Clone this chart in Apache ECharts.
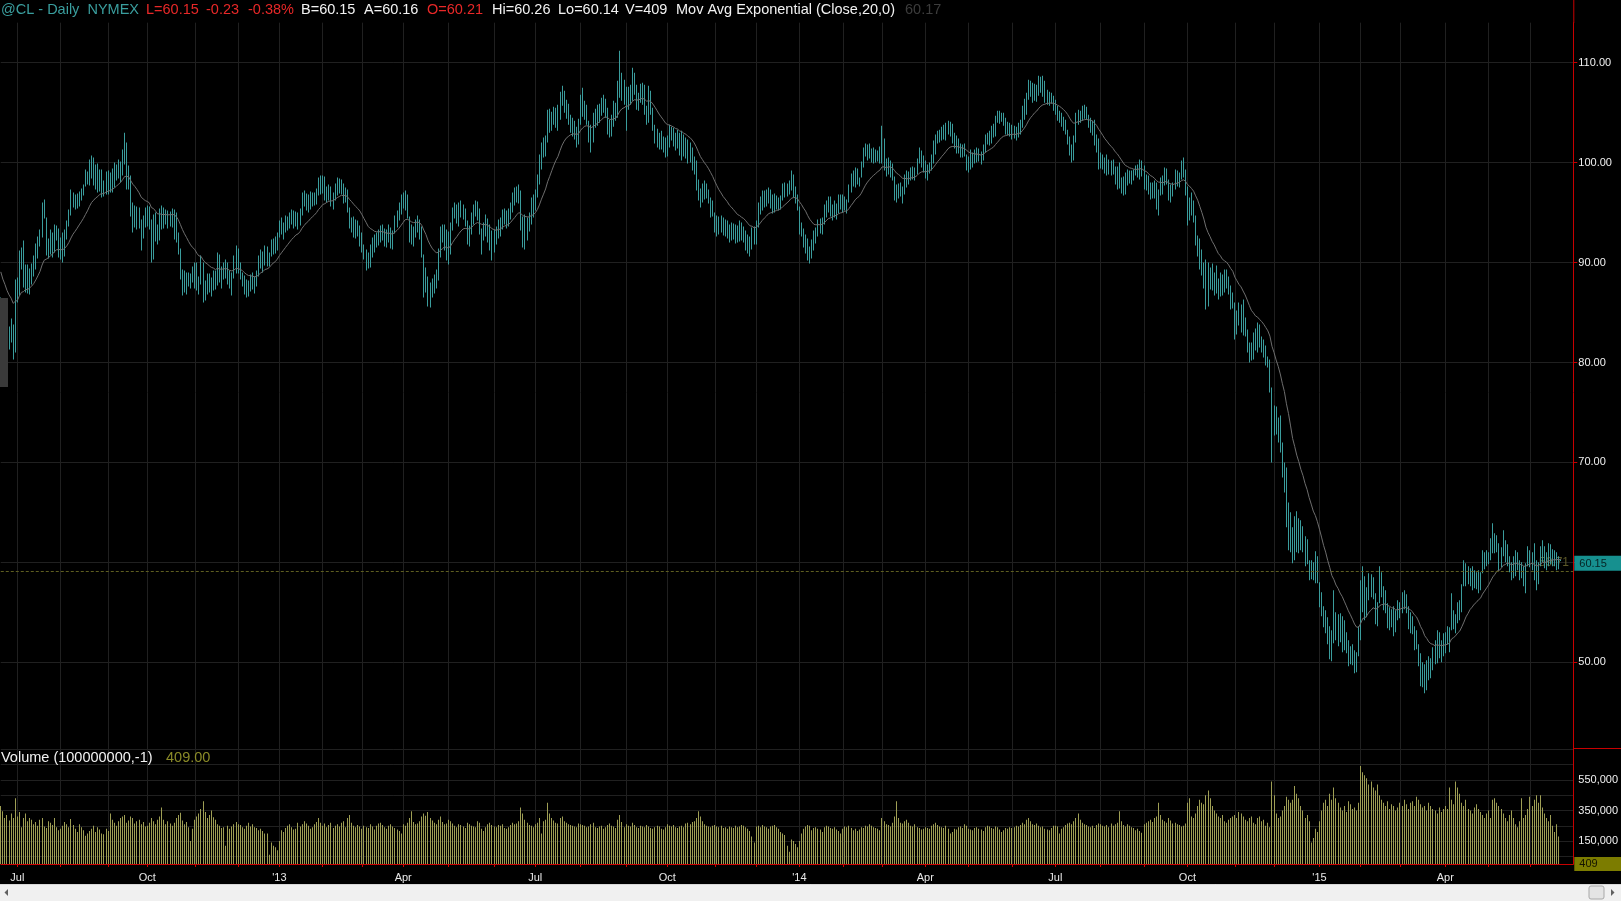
<!DOCTYPE html>
<html><head><meta charset="utf-8">
<script src="https://cdn.jsdelivr.net/npm/echarts@6/dist/echarts.min.js"></script>
<style>html,body{margin:0;padding:0;background:#000;overflow:hidden}#c{width:1621px;height:901px}</style>
</head><body><div id="c"></div><script>
// ---- daily bars per month: [low, high, close] ----
const p1206=[[83.0,86.5,84.0],[81.0,84.5,81.5],[81.2,83.5,82.8],[80.8,83.2,81.5],[81.3,83.6,82.5],[82.0,84.4,83.3],[80.3,83.8,81.0],[81.0,88.3,88.0]];
const p1207=[[86.0,88.5,87.0],[86.7,91.2,90.9],[89.3,91.5,90.5],[87.5,92.2,87.8],[87.0,89.8,89.3],[86.9,89.8,87.2],[86.8,89.4,89.1],[87.8,89.9,89.4],[88.6,90.7,90.4],[89.3,91.9,91.7],[90.4,92.6,92.5],[91.6,93.3,93.2],[92.5,96.0,95.9],[94.4,96.3,94.7],[90.7,94.5,91.4],[90.4,92.4,91.8],[90.8,93.3,92.3],[90.5,93.0,92.7],[91.0,93.8,93.4],[92.2,93.7,93.1],[90.5,93.4,91.4]];
const p1208=[[90.3,92.5,91.5],[90.0,93.0,90.8],[90.6,93.3,93.1],[92.3,94.2,93.9],[93.6,95.3,95.2],[94.7,97.3,96.7],[95.5,97.0,96.5],[95.3,96.8,95.8],[95.4,96.9,96.4],[95.6,97.1,96.9],[96.2,97.4,97.0],[96.7,97.8,97.6],[97.6,99.3,98.5],[97.8,99.1,98.7],[97.7,100.3,100.0],[98.4,100.7,99.6],[97.7,100.5,98.4],[97.3,99.8,98.6],[97.0,99.9,98.0],[97.1,99.3,98.9],[96.5,99.3,97.5],[96.6,98.2,97.0],[96.8,99.1,98.6]];
const p1209=[[96.8,99.2,97.8],[97.0,99.0,97.9],[97.0,99.4,98.2],[97.5,100.0,99.0],[98.2,99.8,99.2],[98.4,100.3,99.8],[98.0,100.1,99.6],[98.7,101.3,101.0],[99.8,103.0,101.6],[97.3,102.0,98.9],[97.3,99.7,97.9],[94.6,98.7,94.6],[93.0,96.0,94.5],[93.5,95.7,95.4],[93.3,95.6,94.5],[93.4,95.5,93.9],[91.2,94.3,92.6],[92.4,94.7,94.4],[93.5,95.5,94.7]];
const p1210=[[93.6,95.7,95.2],[93.3,95.6,94.7],[90.0,94.3,91.0],[90.3,94.8,94.5],[92.1,95.0,92.7],[91.8,93.8,92.1],[92.2,95.4,95.2],[93.3,95.7,94.0],[93.4,95.5,94.9],[93.8,95.3,94.6],[93.4,95.2,94.6],[93.6,95.1,94.9],[93.5,95.4,94.9],[92.3,95.3,94.8],[92.0,95.0,92.8],[90.8,93.0,91.4],[88.3,91.4,89.2],[86.7,89.3,88.5],[87.0,89.2,88.8],[86.8,89.0,89.0],[87.6,89.0,88.3],[87.4,88.9,88.4],[88.0,89.6,89.0]];
const p1211=[[87.4,90.0,89.5],[87.2,90.0,87.4],[86.8,88.6,88.1],[87.8,90.7,90.3],[86.0,90.0,86.9],[86.2,88.2,87.5],[86.8,88.9,88.5],[87.0,88.9,88.0],[86.6,88.5,87.9],[87.2,89.2,88.8],[87.3,89.2,87.9],[87.7,91.0,90.6],[88.0,90.8,88.6],[87.4,89.6,89.2],[88.3,90.0,89.6],[88.4,90.3,89.9],[87.8,90.0,88.6],[87.4,89.2,88.0],[86.7,89.0,88.7],[88.4,90.7,90.2],[88.9,91.7,90.9]];
const p1212=[[88.9,91.4,89.2],[88.3,90.0,88.6],[87.6,89.0,88.2],[86.8,88.7,87.0],[86.5,88.3,87.2],[86.6,88.2,87.5],[87.1,88.8,88.6],[87.3,89.0,87.9],[86.9,88.6,88.2],[87.6,89.2,88.9],[88.6,90.7,90.4],[89.4,91.3,90.8],[89.0,91.1,90.2],[89.7,91.7,91.4],[89.6,91.6,89.8],[89.6,91.0,90.7],[90.6,92.3,92.0],[90.8,92.4,92.1],[90.9,92.6,91.4],[91.2,93.0,92.8]];
const p1301=[[92.5,94.2,94.0],[92.8,94.5,93.6],[92.3,94.0,93.8],[93.0,94.7,94.2],[93.2,94.6,94.3],[93.4,95.0,94.6],[93.8,95.3,94.8],[93.4,95.2,94.5],[93.6,95.1,95.0],[93.3,95.0,93.8],[93.7,95.4,95.2],[94.7,97.0,96.8],[95.6,97.2,96.2],[95.2,96.9,96.4],[95.0,96.8,95.7],[95.3,97.1,96.8],[95.6,97.0,96.4],[95.7,97.0,96.6],[95.8,97.4,97.2],[96.7,98.5,98.3],[96.8,98.7,97.6]];
const p1302=[[96.9,98.7,98.4],[96.2,98.6,96.7],[96.0,97.6,97.3],[96.2,97.8,97.2],[95.6,97.6,96.4],[95.3,97.0,96.5],[96.2,97.9,97.6],[96.7,98.5,98.1],[96.9,98.4,97.6],[96.8,98.3,97.9],[95.9,97.9,96.4],[96.0,97.5,97.1],[95.0,97.3,95.2],[93.4,95.5,93.7],[93.0,94.5,94.0],[92.5,94.6,93.4],[92.4,94.3,93.4],[92.6,94.2,93.5],[91.6,93.7,92.8]];
const p1303=[[91.0,93.0,91.3],[90.3,91.8,90.7],[89.2,91.3,90.5],[89.4,91.0,89.8],[89.5,91.8,91.4],[90.5,92.5,92.2],[91.0,92.8,91.6],[91.5,93.0,92.6],[91.7,93.3,92.9],[92.0,93.7,93.4],[92.2,93.8,93.0],[91.6,93.4,92.3],[91.5,93.3,92.0],[92.0,93.8,93.4],[91.4,93.5,92.0],[91.3,93.2,92.9],[92.9,94.7,94.5],[93.5,95.2,95.0],[94.2,96.0,95.6],[94.8,96.8,96.4]];
const p1304=[[95.4,97.0,96.8],[95.2,97.2,96.9],[94.4,96.8,94.6],[92.0,94.6,93.3],[91.8,93.8,92.6],[91.6,93.6,93.3],[92.5,94.3,94.1],[93.0,94.7,94.5],[92.3,94.3,93.3],[90.5,93.6,91.3],[86.5,90.8,88.7],[87.0,89.5,88.7],[85.6,88.6,86.7],[85.5,88.0,87.7],[86.5,88.4,88.0],[86.9,88.8,88.7],[87.4,89.3,89.2],[88.2,91.4,91.2],[90.5,93.6,93.3],[92.0,93.8,92.8],[91.2,93.8,93.4],[90.2,93.3,91.0]];
const p1305=[[89.8,93.1,90.8],[90.8,94.0,93.8],[93.2,95.5,95.3],[94.4,96.0,95.4],[93.9,95.8,95.0],[93.6,96.0,95.8],[94.5,96.2,95.6],[94.3,95.8,95.3],[93.6,95.4,94.0],[91.8,94.2,93.0],[91.6,93.7,93.3],[92.8,95.0,94.7],[93.8,95.8,95.6],[94.6,96.2,95.8],[94.2,96.1,95.0],[92.8,95.4,93.1],[90.8,93.4,93.0],[92.2,94.0,93.3],[92.6,94.8,94.3],[92.0,94.4,92.4],[91.2,93.8,92.8],[90.2,93.2,91.2]];
const p1306=[[91.0,93.3,92.6],[91.8,93.6,92.5],[92.4,94.3,93.9],[92.6,94.5,93.8],[93.3,95.3,95.1],[93.8,95.4,94.9],[93.4,95.2,94.4],[93.6,95.4,94.8],[94.3,96.0,95.7],[95.0,97.0,96.8],[95.7,97.5,96.7],[96.0,97.6,97.4],[95.9,97.8,97.1],[93.2,97.2,94.2],[91.5,94.6,92.5],[91.3,94.8,93.9],[92.2,94.5,94.2],[93.1,95.0,94.4],[93.8,96.5,96.0],[94.5,96.8,95.5]];
const p1307=[[95.2,97.3,96.9],[96.5,98.8,98.4],[97.8,100.8,100.2],[99.3,102.0,101.8],[100.5,102.5,101.6],[100.6,102.7,102.3],[102.0,105.3,105.0],[103.0,105.4,103.7],[103.2,105.1,104.6],[103.8,105.6,105.0],[103.5,105.5,104.8],[103.2,105.8,104.3],[104.3,107.1,106.8],[105.7,107.7,106.9],[105.0,107.2,105.8],[104.4,106.3,105.4],[103.8,105.9,104.2],[103.0,104.8,104.3],[102.6,104.5,103.5],[102.3,104.2,103.4],[101.5,103.6,101.9],[101.8,104.4,103.9]];
const p1308=[[103.8,106.8,106.5],[104.6,107.5,105.6],[104.3,106.2,105.3],[103.8,105.8,104.1],[102.0,104.2,103.0],[101.0,103.8,102.2],[102.0,105.0,104.8],[103.5,105.4,105.0],[103.7,105.8,105.6],[104.0,105.9,105.6],[104.7,106.5,106.1],[105.0,106.8,106.3],[104.5,106.4,105.8],[102.8,105.5,103.6],[102.5,104.3,102.8],[102.6,104.8,103.9],[103.6,106.2,105.3],[104.2,106.0,104.9],[104.5,108.2,107.9],[106.5,111.2,108.8],[106.2,109.0,107.6],[105.8,108.3,106.5]];
const p1309=[[103.2,107.6,107.0],[105.3,107.6,106.0],[105.8,107.8,107.2],[106.2,109.5,108.9],[106.8,109.0,108.0],[105.3,107.8,106.0],[105.2,107.0,106.3],[106.0,107.9,107.4],[105.8,108.0,107.0],[104.8,107.8,105.4],[103.8,105.7,104.3],[104.0,107.7,106.8],[104.8,107.2,105.2],[103.2,105.5,103.5],[101.9,103.8,102.6],[101.5,103.4,102.0],[101.3,103.0,101.5],[101.3,103.2,101.9],[101.0,102.6,101.6],[100.5,102.5,101.0]];
const p1310=[[100.6,102.7,102.2],[101.5,103.8,103.3],[102.2,103.6,102.8],[101.6,103.5,102.5],[101.2,103.0,102.0],[101.4,103.3,102.8],[100.7,103.0,101.3],[100.2,103.2,102.7],[100.6,102.8,101.2],[100.4,102.5,102.0],[99.9,102.3,100.6],[100.0,102.0,101.3],[99.2,101.5,100.0],[98.8,100.6,99.2],[97.2,100.2,97.8],[96.2,98.3,96.6],[95.5,97.4,96.0],[96.0,97.9,97.3],[96.3,98.2,96.9],[96.4,97.9,97.2],[95.9,97.3,96.2],[94.5,96.5,95.4],[94.6,96.2,94.9]];
const p1311=[[93.0,95.0,93.5],[92.6,94.7,93.6],[92.8,94.6,93.4],[93.0,94.7,94.0],[92.7,94.5,93.3],[92.6,94.3,93.9],[92.4,94.2,93.6],[92.0,93.8,92.5],[92.2,94.0,93.6],[92.3,93.9,93.0],[91.9,93.8,92.7],[92.0,93.7,92.4],[92.1,94.2,93.7],[92.2,94.0,92.9],[92.0,93.6,93.2],[91.2,93.2,92.0],[90.9,92.8,91.5],[90.6,92.6,91.4],[91.3,93.5,93.2],[91.8,93.6,92.0]];
const p1312=[[91.8,94.2,93.8],[93.5,96.0,95.6],[94.8,96.6,96.2],[95.2,97.2,96.8],[95.5,97.2,96.6],[95.6,97.3,96.5],[95.9,97.5,97.2],[95.4,97.3,95.8],[94.9,96.8,95.5],[95.0,96.9,96.3],[95.3,96.7,95.8],[95.2,96.5,96.1],[95.3,96.7,96.4],[96.2,97.9,97.6],[96.5,98.0,97.5],[96.6,97.9,97.7],[96.8,98.2,98.0],[97.2,99.2,98.8],[96.5,98.8,97.3],[95.9,97.6,96.5],[95.2,96.8,95.5]];
const p1401=[[92.8,95.6,93.0],[92.6,94.0,93.2],[91.5,93.4,92.0],[90.9,92.8,92.3],[90.2,92.4,90.5],[89.9,91.6,90.8],[90.4,92.3,91.6],[91.2,93.2,91.5],[91.9,93.5,93.3],[92.6,94.3,94.0],[92.9,94.4,93.6],[92.8,94.5,94.3],[93.8,95.8,95.5],[94.5,96.2,96.0],[95.0,96.6,96.4],[94.6,96.6,95.2],[94.2,95.8,95.5],[94.5,96.2,95.9],[94.3,95.9,94.9],[94.9,96.8,96.6],[95.3,96.8,95.7]];
const p1402=[[95.0,96.8,95.4],[95.2,96.6,96.3],[94.9,96.3,95.5],[96.0,97.8,97.5],[97.0,98.9,98.6],[97.6,99.2,98.5],[97.5,99.5,99.2],[97.8,99.4,98.4],[97.6,98.5,98.2],[98.5,100.1,99.8],[99.5,101.5,101.2],[100.6,101.9,101.5],[100.2,101.8,101.0],[100.4,101.9,100.7],[100.0,101.4,100.9],[99.9,101.5,100.5],[100.0,101.3,100.6],[100.1,101.2,100.9],[99.9,101.6,100.6]];
const p1403=[[99.9,103.7,102.6],[99.2,102.4,99.6],[98.6,100.4,98.9],[98.8,100.5,100.0],[98.5,100.2,99.8],[98.2,99.9,98.5],[96.2,98.6,97.0],[96.0,97.8,96.3],[96.4,97.9,97.5],[96.6,98.0,97.0],[95.9,97.6,96.2],[96.8,98.8,98.6],[97.5,99.2,97.9],[97.8,99.1,98.6],[98.2,99.5,99.1],[98.3,99.6,98.7],[98.2,99.5,99.2],[98.8,100.4,100.1],[99.9,101.5,101.0],[99.5,101.2,100.3],[99.0,100.7,99.6]];
const p1404=[[98.4,100.2,98.8],[98.2,99.8,99.6],[98.9,100.0,99.6],[99.2,100.8,100.5],[99.9,102.2,101.8],[100.8,102.8,102.5],[101.9,103.2,102.8],[102.0,103.3,102.6],[102.2,103.6,103.3],[102.3,103.8,103.0],[102.2,104.0,103.6],[102.8,104.2,103.9],[102.6,104.1,103.2],[101.9,103.9,102.2],[101.4,103.0,101.7],[100.9,102.7,101.3],[100.9,102.4,101.6],[100.5,101.9,100.8],[100.5,101.8,100.9],[100.6,101.9,101.0],[99.2,100.8,99.6]];
const p1405=[[99.0,100.6,99.4],[99.3,101.3,100.0],[99.5,101.0,100.5],[99.9,101.3,100.3],[100.0,101.5,100.8],[100.1,101.4,100.4],[99.8,101.1,100.2],[100.2,101.8,101.6],[101.0,102.8,102.5],[101.8,103.0,102.7],[101.7,103.2,102.4],[101.9,103.7,102.7],[102.5,103.9,102.8],[102.6,104.7,104.3],[104.0,105.2,104.2],[103.9,105.2,104.7],[104.1,105.0,104.6],[103.7,105.0,104.0],[102.8,104.5,103.2],[102.7,104.1,103.6],[102.6,104.0,102.9]];
const p1406=[[102.3,103.8,103.0],[102.4,103.7,103.1],[102.2,103.6,102.6],[102.5,104.0,103.8],[102.8,104.3,103.4],[103.5,105.7,105.3],[104.3,106.4,106.1],[104.8,107.0,106.8],[106.3,108.3,108.0],[106.6,108.2,107.4],[106.0,108.0,107.0],[106.2,107.9,107.5],[106.1,107.8,106.8],[106.7,108.7,108.1],[107.0,108.6,107.6],[106.6,108.7,107.1],[106.0,108.2,106.4],[105.8,107.3,106.8],[105.7,107.1,105.9],[105.9,107.0,106.4],[105.2,106.7,105.5]];
const p1407=[[104.8,106.3,105.4],[104.2,105.7,104.5],[104.0,105.2,104.6],[103.6,105.0,104.0],[103.2,104.6,103.6],[102.8,104.3,103.0],[101.8,103.3,102.2],[100.7,102.6,101.0],[100.0,101.8,100.9],[100.2,102.7,102.3],[102.0,105.0,104.7],[103.8,105.3,104.8],[104.0,105.2,104.5],[104.2,105.7,105.2],[104.4,105.8,104.9],[104.3,105.6,104.6],[103.5,104.8,103.9],[103.0,104.5,104.1],[102.7,104.2,103.1],[101.7,104.3,102.0],[101.0,102.8,101.6],[99.3,102.4,99.8]];
const p1408=[[99.4,101.0,100.3],[99.3,100.8,99.6],[98.9,100.5,99.2],[98.7,100.8,99.8],[98.8,100.3,99.1],[98.7,100.2,99.5],[98.8,100.3,99.3],[97.8,99.6,98.0],[97.3,99.6,99.0],[97.4,100.0,97.7],[96.9,98.5,97.3],[96.7,98.6,97.0],[96.8,99.0,97.3],[97.7,99.3,98.7],[97.9,99.2,98.2],[97.8,99.2,98.9],[98.2,99.3,98.6],[98.7,99.7,99.1],[98.5,99.8,99.4],[98.3,100.3,100.0],[98.6,100.2,99.2]];
const p1409=[[97.3,99.7,97.6],[97.2,98.8,98.3],[96.8,98.7,97.2],[96.3,98.0,96.6],[96.4,98.0,97.6],[96.4,98.2,96.8],[95.3,98.0,96.0],[94.7,97.3,96.6],[96.7,98.5,97.9],[96.8,98.7,97.3],[97.7,99.5,99.2],[97.8,99.4,98.3],[96.2,98.3,96.5],[96.0,97.8,97.2],[96.6,98.0,97.0],[97.3,99.3,98.8],[97.6,99.2,98.4],[97.5,99.0,98.6],[98.3,100.2,99.8],[98.5,100.5,99.3],[96.7,99.3,97.0]];
const p1410=[[93.7,97.6,94.6],[94.2,96.5,96.0],[94.7,97.0,95.2],[94.0,96.2,94.6],[91.7,94.7,92.2],[90.6,92.7,92.1],[89.3,92.4,89.8],[88.7,91.3,89.2],[87.4,90.0,88.0],[85.3,90.3,85.8],[85.6,90.0,88.0],[87.3,89.5,88.6],[87.2,89.9,87.7],[86.7,89.0,88.4],[86.9,89.7,87.1],[86.3,88.4,86.9],[86.6,89.0,88.5],[86.7,88.8,87.0],[87.0,89.3,88.8],[87.4,89.3,88.6],[86.8,88.6,87.2],[85.3,87.7,86.0],[85.4,87.0,86.5]];
const p1411=[[82.3,86.0,83.0],[82.8,85.2,84.8],[83.7,86.0,84.3],[83.0,85.8,85.2],[82.7,86.3,83.2],[82.6,84.5,83.0],[81.0,83.3,81.5],[80.0,82.0,80.6],[80.2,82.0,80.5],[80.3,83.0,82.5],[81.2,83.4,81.8],[81.0,84.0,83.4],[81.5,83.8,82.0],[81.0,82.6,82.2],[80.5,82.3,81.2],[79.7,81.7,80.4],[79.5,80.6,80.0],[77.0,80.3,77.6],[70.0,77.5,72.0]];
const p1412=[[72.7,75.7,75.0],[72.8,75.6,73.2],[72.0,74.5,73.6],[71.0,74.7,71.6],[68.5,72.0,69.0],[67.0,70.0,69.3],[63.5,69.5,64.2],[61.2,66.0,65.5],[61.0,65.0,62.0],[59.9,63.5,60.4],[60.2,64.6,64.0],[61.0,65.1,62.5],[60.9,64.4,63.8],[61.2,64.2,62.0],[61.0,63.6,63.0],[59.6,62.6,60.3],[59.8,62.3,61.5],[58.2,60.2,58.8],[58.3,60.2,59.6],[58.2,60.0,58.5],[57.9,61.1,60.5],[57.9,60.6,58.2]];
const p1501=[[55.5,58.0,56.2],[54.6,57.0,55.0],[53.5,55.6,53.8],[52.9,55.2,54.6],[51.8,54.5,52.3],[50.3,53.6,52.8],[50.1,53.2,51.0],[51.9,57.2,54.4],[52.2,55.0,52.6],[51.6,54.8,54.2],[52.0,54.9,52.5],[51.0,54.6,53.4],[51.2,54.2,51.6],[50.9,53.0,51.2],[49.6,52.2,50.4],[49.8,51.6,51.0],[49.7,51.8,50.0],[48.9,51.2,49.3],[49.0,51.0,50.6],[50.6,53.6,53.3]];
const p1502=[[52.2,58.2,57.8],[55.0,59.6,59.0],[54.2,58.6,54.8],[54.5,57.5,57.0],[56.2,58.9,58.3],[56.5,58.8,57.0],[56.3,58.5,57.8],[53.8,56.9,54.2],[53.6,56.0,55.6],[55.9,59.6,58.2],[56.5,59.0,57.0],[55.2,57.6,56.0],[54.9,57.2,56.6],[53.4,55.9,54.0],[53.2,55.5,54.8],[53.5,55.3,54.0],[52.6,55.6,55.2],[53.0,55.2,53.5],[54.2,56.2,55.5]];
const p1503=[[54.4,56.0,55.6],[54.9,57.0,56.5],[55.3,57.2,55.8],[54.9,56.8,56.2],[53.3,55.6,53.8],[52.9,55.0,54.5],[52.8,54.6,53.0],[51.2,53.6,51.8],[51.3,53.2,52.7],[49.6,51.8,50.0],[47.6,50.9,48.5],[47.5,50.0,49.6],[46.9,49.8,47.4],[47.2,50.2,49.8],[48.2,50.6,48.8],[48.4,50.4,50.1],[49.2,51.5,51.2],[49.8,52.2,50.3],[49.9,53.2,52.8],[50.4,53.0,51.0],[50.0,52.2,51.8],[50.6,52.9,51.5]];
const p1504=[[50.9,53.0,52.6],[51.8,53.6,52.0],[51.0,53.5,53.2],[53.2,56.9,56.2],[53.3,55.2,53.8],[52.9,54.8,54.4],[53.9,56.0,55.6],[54.2,56.2,55.0],[55.0,57.8,57.6],[57.6,60.2,58.4],[57.6,59.9,59.5],[57.8,59.6,58.2],[57.6,59.4,59.0],[57.2,59.6,57.8],[57.4,59.2,58.6],[57.3,59.0,57.6],[56.9,59.2,58.7],[57.2,59.0,57.9],[58.9,61.2,60.8],[59.3,61.0,60.0],[59.6,61.2,60.5]];
const p1505=[[59.8,61.0,60.6],[60.2,62.4,62.0],[60.9,63.9,62.2],[60.9,62.9,61.3],[61.0,62.7,62.2],[59.2,61.9,59.8],[59.5,61.5,61.1],[60.6,63.2,62.8],[60.0,62.2,60.5],[59.6,61.8,61.4],[59.0,60.6,59.5],[58.2,60.0,58.6],[58.4,60.6,60.2],[58.6,61.2,60.9],[59.2,61.0,59.6],[58.2,60.2,58.8],[58.4,60.0,59.8],[57.6,59.6,58.0],[56.9,59.9,59.6],[59.6,61.6,61.2]];
const p1506=[[59.5,61.2,60.3],[59.2,61.0,60.8],[58.2,61.9,59.0],[57.2,60.2,58.2],[57.8,60.0,59.6],[59.6,61.6,61.2],[60.0,62.2,61.5],[59.4,61.6,60.0],[59.2,61.0,60.8],[59.6,61.9,61.2],[59.8,61.8,60.3],[59.6,61.3,61.0],[59.6,61.2,60.2],[59.2,61.0,60.6],[59.3,60.6,60.38],[60.14,60.26,60.15]];

// ---- daily volume per month, thousands of contracts ----
const v1206=[380,345,300,320,285,330,300,430];
const v1207=[310,340,240,300,330,280,300,290,260,275,250,290,300,245,235,280,270,255,300,240,220];
const v1208=[230,250,275,260,240,295,255,230,210,260,240,220,185,200,215,230,250,210,240,225,200,195,230];
const v1209=[215,330,290,270,250,280,300,310,320,270,285,310,300,265,280,290,260,275,245];
const v1210=[250,270,300,280,260,290,310,370,290,260,280,265,250,270,300,320,335,285,260,275,240,150,230];
const v1211=[290,310,330,360,410,340,300,320,350,305,290,260,250,235,240,120,250,230,245,260,275];
const v1212=[260,255,240,230,250,270,245,260,240,235,220,230,215,200,200,60,140,120,110,90];
const v1301=[150,220,210,235,250,260,240,225,230,270,245,260,280,265,250,230,240,260,275,300,270];
const v1302=[250,265,240,255,270,235,250,260,245,270,280,240,300,320,270,250,240,255,245];
const v1303=[230,250,240,235,260,245,225,250,265,270,255,240,230,250,260,245,235,225,215,200];
const v1304=[260,250,270,300,345,275,260,265,280,310,330,315,340,300,285,270,260,290,310,275,260,265];
const v1305=[290,280,265,250,240,260,255,245,235,270,260,250,245,240,280,270,230,215,240,260,270,255];
const v1306=[245,240,255,250,260,235,230,240,255,270,260,265,280,370,330,290,270,255,250,240];
const v1307=[260,270,300,200,280,290,400,330,300,285,270,265,300,310,280,270,260,255,250,245,240,265];
const v1308=[260,255,250,240,245,260,270,240,235,245,250,230,240,255,265,250,245,235,290,320,275,240];
const v1309=[260,250,245,270,255,240,235,250,245,240,255,245,235,230,240,250,245,230,225,240];
const v1310=[260,250,245,255,240,235,245,250,240,265,270,260,275,280,300,345,310,280,260,250,245,240,250];
const v1311=[255,245,240,250,235,240,230,245,240,235,250,240,245,255,250,240,230,215,180,140];
const v1312=[245,250,240,255,245,240,230,245,250,255,240,230,210,200,190,120,80,160,150,130,110];
const v1401=[150,200,230,245,255,250,220,235,240,230,225,210,240,250,245,235,230,240,225,215,200];
const v1402=[230,245,240,250,235,220,230,215,225,240,235,250,245,260,250,240,235,230,220];
const v1403=[300,280,260,255,245,270,310,410,300,270,265,280,290,270,250,245,260,240,235,225,230];
const v1404=[240,235,230,250,260,270,255,245,240,235,250,230,200,210,230,225,240,245,235,260,250];
const v1405=[230,225,220,235,240,230,225,215,240,250,245,235,230,245,240,225,210,220,235,230,240];
const v1406=[235,240,250,245,255,270,260,290,300,280,260,255,265,250,240,245,230,225,220,235,250];
const v1407=[250,245,200,230,240,255,265,270,260,280,300,330,290,270,260,255,245,240,250,235,255,265];
const v1408=[260,250,245,255,240,265,250,260,270,345,280,255,245,260,250,240,235,220,230,215,205];
const v1409=[260,270,280,290,275,300,310,400,320,290,280,270,300,285,265,270,260,255,245,250,265];
const v1410=[400,430,310,300,330,380,420,400,390,450,480,430,380,350,330,310,300,320,280,270,290,300,310];
const v1411=[320,300,340,330,310,290,280,300,310,270,260,300,310,280,290,250,270,240,540];
const v1412=[450,330,300,310,350,380,440,420,400,420,510,460,430,380,350,300,320,280,140,170,230,210];
const v1501=[280,350,400,420,380,460,420,500,430,400,370,350,380,340,410,390,360,370,350,400];
const v1502=[640,600,580,560,520,540,500,480,520,450,420,400,380,410,360,390,380,350,370];
const v1503=[400,380,420,390,360,400,410,380,440,420,390,370,380,350,400,380,360,350,330,370,340,360];
const v1504=[380,360,500,420,390,540,500,460,400,380,420,360,350,330,370,390,360,340,320,300,330];
const v1505=[350,300,420,430,400,380,360,330,300,280,320,350,300,260,240,280,430,300,320,360];
const v1506=[440,380,420,450,400,450,370,330,300,280,320,250,210,260,180,0.409];

const monthKeys=['2012-06','2012-07','2012-08','2012-09','2012-10','2012-11','2012-12','2013-01','2013-02','2013-03','2013-04','2013-05','2013-06','2013-07','2013-08','2013-09','2013-10','2013-11','2013-12','2014-01','2014-02','2014-03','2014-04','2014-05','2014-06','2014-07','2014-08','2014-09','2014-10','2014-11','2014-12','2015-01','2015-02','2015-03','2015-04','2015-05','2015-06'];
const priceMonths=[p1206,p1207,p1208,p1209,p1210,p1211,p1212,p1301,p1302,p1303,p1304,p1305,p1306,p1307,p1308,p1309,p1310,p1311,p1312,p1401,p1402,p1403,p1404,p1405,p1406,p1407,p1408,p1409,p1410,p1411,p1412,p1501,p1502,p1503,p1504,p1505,p1506];
const volumeMonths=[v1206,v1207,v1208,v1209,v1210,v1211,v1212,v1301,v1302,v1303,v1304,v1305,v1306,v1307,v1308,v1309,v1310,v1311,v1312,v1401,v1402,v1403,v1404,v1405,v1406,v1407,v1408,v1409,v1410,v1411,v1412,v1501,v1502,v1503,v1504,v1505,v1506];
const quarterNames={'04':'Apr','07':'Jul','10':'Oct'};
const volumeTickLabels=[150,350,550];
const emaSeed=89.6, emaLength=20;
const lastPrice=60.15, dashedLevel=59.15, lastVolumeText='409';
const rightPadBars=6;

// ---- build series ----
const bars=[], vols=[], monthStartLabel={};
monthKeys.forEach((k,mi)=>{
  const [y,m]=k.split('-');
  monthStartLabel[bars.length]= m==='01' ? "'"+y.slice(2) : (quarterNames[m]||'');
  priceMonths[mi].forEach((b,j)=>{bars.push(b); vols.push(volumeMonths[mi][j]!=null?volumeMonths[mi][j]:0);});
});
delete monthStartLabel[0];
const N=bars.length, total=N+rightPadBars;
const cats=Array.from({length:total},(_,i)=>String(i));
let e=emaSeed;
const ema=bars.map(b=>{e=e+(b[2]-e)*2/(emaLength+1);return +e.toFixed(3);});
const isMonth=i=>Object.prototype.hasOwnProperty.call(monthStartLabel,i);
const isQuarter=i=>isMonth(i)&&monthStartLabel[i]!=='';

const RED='#c80000', GRID='#202020', TEAL='#3a9c9c', OLIVE='#9e9e54';
const gL=0.79, gW=1572.5;
const chart=echarts.init(document.getElementById('c'),null,{renderer:'canvas',devicePixelRatio:1});
const font='"Liberation Sans", Arial, sans-serif';

const option={
  backgroundColor:'#000',
  animation:false,
  grid:[
    {left:gL,width:gW,top:22.7,height:739.5,outerBoundsMode:'none',containLabel:false},
    {left:gL,width:gW,top:749.3,height:114.7,outerBoundsMode:'none',containLabel:false}
  ],
  xAxis:[
    {type:'category',gridIndex:0,data:cats,boundaryGap:false,axisLine:{show:false},axisTick:{show:false},axisLabel:{show:false},
     splitLine:{show:true,interval:(i)=>isMonth(i),lineStyle:{color:GRID,width:1}}},
    {type:'category',gridIndex:1,data:cats,boundaryGap:false,
     axisLine:{show:true,lineStyle:{color:RED,width:1}},
     axisTick:{show:true,interval:(i)=>isMonth(i),length:3,lineStyle:{color:RED}},
     axisLabel:{show:true,interval:(i)=>isQuarter(i),formatter:(v,i)=>monthStartLabel[+v]||'',color:'#e8e8e8',fontSize:11,fontFamily:font,margin:8},
     splitLine:{show:true,interval:(i)=>isMonth(i),lineStyle:{color:GRID,width:1}}}
  ],
  yAxis:[
    {type:'value',gridIndex:0,position:'right',min:40,max:114,interval:10,
     axisLine:{show:true,lineStyle:{color:RED,width:1}},
     axisTick:{show:true,length:4,lineStyle:{color:RED}},
     axisLabel:{color:'#f0f0f0',fontSize:11,fontFamily:font,margin:5,formatter:v=>v.toFixed(2),showMinLabel:false,showMaxLabel:false},
     splitLine:{show:true,showMinLine:false,showMaxLine:false,lineStyle:{color:GRID,width:1}}},
    {type:'value',gridIndex:1,position:'right',min:0,max:750,interval:50,
     axisLine:{show:true,lineStyle:{color:RED,width:1}},
     axisTick:{show:false},
     axisLabel:{color:'#f0f0f0',fontSize:11,fontFamily:font,margin:5,formatter:v=>volumeTickLabels.includes(v)?(v*1000).toLocaleString('en-US'):''},
     splitLine:{show:true,lineStyle:{color:['rgba(0,0,0,0)',GRID],width:1}}}
  ],
  series:[
    {type:'custom',xAxisIndex:0,yAxisIndex:0,clip:true,
     data:bars.map((b,i)=>[i,b[0],b[1],b[2]]),
     encode:{x:0,y:[1,2]},
     renderItem:(params,api)=>{
       const i=api.value(0);
       const lo=api.coord([i,api.value(1)]), hi=api.coord([i,api.value(2)]);
       const x=Math.round(lo[0]-0.5);
       return {type:'rect',shape:{x:x,y:hi[1],width:1,height:Math.max(1,lo[1]-hi[1])},style:{fill:TEAL}};
     },
     markLine:{silent:true,symbol:'none',label:{show:false},lineStyle:{type:[3,2],color:'#5e5e20',width:1},data:[{yAxis:dashedLevel}]},
     z:3},
    {type:'line',xAxisIndex:0,yAxisIndex:0,data:ema,symbol:'none',lineStyle:{color:'#6e6e6e',width:1},z:4,silent:true},
    {type:'custom',xAxisIndex:1,yAxisIndex:1,clip:true,
     data:vols.map((v,i)=>[i,v]),
     encode:{x:0,y:1},
     renderItem:(params,api)=>{
       const i=api.value(0);
       const b=api.coord([i,0]), t=api.coord([i,api.value(1)]);
       const x=Math.round(b[0]-0.5);
       return {type:'rect',shape:{x:x,y:t[1],width:1,height:Math.max(0.5,b[1]-t[1])},style:{fill:OLIVE}};
     },z:3}
  ]
};
chart.setOption(option);

// decorations positioned with the chart's own scales
const axX=gL+gW;
const yLast=chart.convertToPixel({yAxisIndex:0},lastPrice);
const hdrFont='14.5px '+font;
const hdr=[
  ['@CL - Daily  NYMEX',1,'#3a9e9e'],['L=60.15',146,'#e82828'],['-0.23',206,'#e82828'],['-0.38%',248,'#e82828'],
  ['B=60.15',301,'#f2f2f2'],['A=60.16',364,'#f2f2f2'],['O=60.21',427,'#e82828'],['Hi=60.26',492,'#f2f2f2'],
  ['Lo=60.14',558,'#f2f2f2'],['V=409',625,'#f2f2f2'],['Mov Avg Exponential (Close,20,0)',676,'#f2f2f2'],['60.17',905,'#3c3c3c']
];
const g=[];
hdr.forEach(h=>g.push({type:'text',x:h[1],y:10,style:{text:h[0],fill:h[2],font:hdrFont,textVerticalAlign:'middle'},z:20}));
g.push({type:'text',x:1,y:758,style:{text:'Volume (100000000,-1)',fill:'#f2f2f2',font:hdrFont,textVerticalAlign:'middle'},z:20});
g.push({type:'text',x:166,y:758,style:{text:'409.00',fill:'#8a8a28',font:hdrFont,textVerticalAlign:'middle'},z:20});
g.push({type:'line',shape:{x1:axX+0.5,y1:0,x2:axX+0.5,y2:23},style:{stroke:RED,lineWidth:1},z:20});
g.push({type:'line',shape:{x1:axX,y1:748.5,x2:1621,y2:748.5},style:{stroke:RED,lineWidth:1},z:20});
g.push({type:'rect',shape:{x:axX+1,y:yLast-5,width:1621-axX,height:15},style:{fill:'#16908f'},z:20});
g.push({type:'text',x:axX+6,y:yLast+3,style:{text:lastPrice.toFixed(2),fill:'#062424',font:'11px '+font,textVerticalAlign:'middle'},z:21});
g.push({type:'rect',shape:{x:axX+1,y:857,width:1621-axX,height:14},style:{fill:'#7c7c00'},z:20});
g.push({type:'text',x:axX+6,y:864,style:{text:lastVolumeText,fill:'#141400',font:'11px '+font,textVerticalAlign:'middle'},z:21});
g.push({type:'text',x:1539,y:563,style:{text:'59.71',fill:'#5c5828',font:'12px '+font,textVerticalAlign:'middle'},z:2});
g.push({type:'rect',shape:{x:0,y:298,width:8,height:89},style:{fill:'#3a3a3a'},z:20});
// bottom scroll bar
g.push({type:'rect',shape:{x:0,y:884,width:1621,height:17},style:{fill:'#f0f0f0'},z:20});
g.push({type:'line',shape:{x1:0,y1:884.5,x2:1621,y2:884.5},style:{stroke:'#d8d8d8',lineWidth:1},z:21});
g.push({type:'polygon',shape:{points:[[8,889],[8,896],[4.5,892.5]]},style:{fill:'#606060'},z:21});
g.push({type:'polygon',shape:{points:[[1611,889],[1611,896],[1614.5,892.5]]},style:{fill:'#606060'},z:21});
g.push({type:'rect',shape:{x:1589,y:886,width:15,height:13,r:2},style:{fill:'#e4e4e4',stroke:'#a8a8a8',lineWidth:1},z:21});
chart.setOption({graphic:{elements:g}});
</script></body></html>
